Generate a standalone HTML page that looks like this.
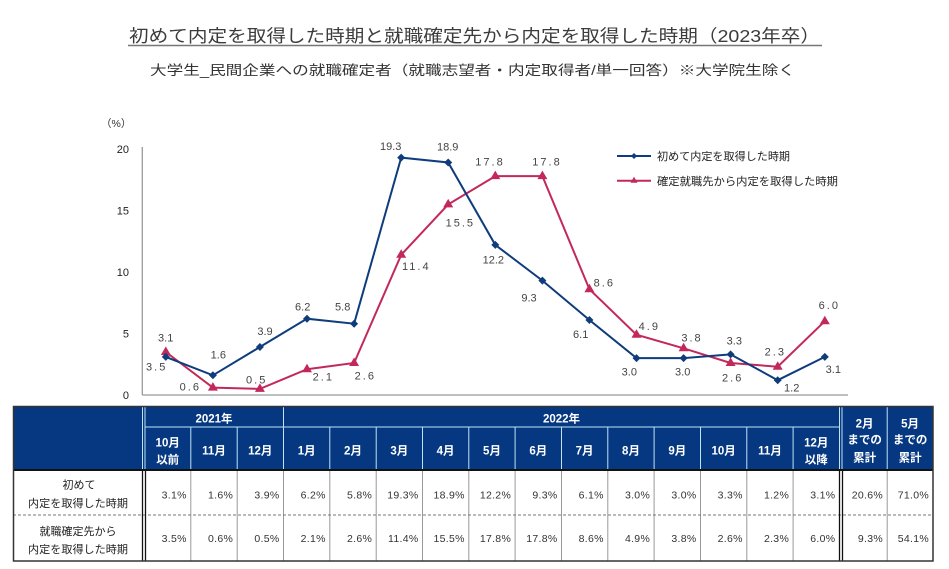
<!DOCTYPE html>
<html>
<head>
<meta charset="utf-8">
<style>
  html,body{margin:0;padding:0;background:#fff;}
  body{width:949px;height:569px;overflow:hidden;}
  svg{display:block;}
  text{font-family:"Liberation Sans","Noto Sans CJK JP",sans-serif;}
  .hd{fill:#fff;font-size:11.5px;font-weight:bold;text-anchor:middle;}
  .val{fill:#333;font-size:10.5px;text-anchor:end;letter-spacing:0.3px;}
  .bl{fill:#444;font-size:11px;text-anchor:middle;}
  .rl{fill:#444;font-size:11px;text-anchor:middle;letter-spacing:2px;}
  .ax{fill:#222;font-size:11px;text-anchor:end;}
  .lab{fill:#222;font-size:11px;text-anchor:middle;}
</style>
</head>
<body>
<svg width="949" height="569" viewBox="0 0 949 569" xmlns="http://www.w3.org/2000/svg">
  <!-- Title -->
  <text x="129" y="42.2" font-size="17.5" fill="#3c3c3c" textLength="691" lengthAdjust="spacingAndGlyphs">初めて内定を取得した時期と就職確定先から内定を取得した時期（2023年卒）</text>
  <line x1="128" y1="45.5" x2="822" y2="45.5" stroke="#777" stroke-width="1.5"/>
  <text x="150" y="75" font-size="13.5" fill="#333" textLength="645" lengthAdjust="spacingAndGlyphs">大学生_民間企業への就職確定者（就職志望者・内定取得者/単一回答）※大学院生除く</text>

  <!-- Axes -->
  <text x="101" y="127" font-size="10.5" fill="#333">（%）</text>
  <text class="ax" x="129" y="153">20</text>
  <text class="ax" x="129" y="214.5">15</text>
  <text class="ax" x="129" y="276">10</text>
  <text class="ax" x="129" y="337.5">5</text>
  <text class="ax" x="129" y="399">0</text>
  <line x1="142.3" y1="147" x2="142.3" y2="395" stroke="#999" stroke-width="1.3"/>
  <line x1="142.3" y1="395" x2="848" y2="395" stroke="#999" stroke-width="1.3"/>

  <!-- Red series -->
  <polyline fill="none" stroke="#c3285a" stroke-width="2" points="165.8,352.0 212.9,387.6 259.9,388.9 307.0,369.2 354.1,363.0 401.2,254.8 448.2,204.4 495.3,176.1 542.4,176.1 589.4,289.2 636.5,334.7 683.6,348.3 730.6,363.0 777.7,366.7 824.8,321.2"/>
  <g fill="#c3285a">
    <polygon points="165.8,346.5 170.8,355 160.8,355"/>
    <polygon points="212.9,382.1 217.9,390.6 207.9,390.6"/>
    <polygon points="259.9,383.4 264.9,391.9 254.9,391.9"/>
    <polygon points="307.0,363.7 312.0,372.2 302.0,372.2"/>
    <polygon points="354.1,357.5 359.1,366 349.1,366"/>
    <polygon points="401.2,249.3 406.2,257.8 396.2,257.8"/>
    <polygon points="448.2,198.9 453.2,207.4 443.2,207.4"/>
    <polygon points="495.3,170.6 500.3,179.1 490.3,179.1"/>
    <polygon points="542.4,170.6 547.4,179.1 537.4,179.1"/>
    <polygon points="589.4,283.7 594.4,292.2 584.4,292.2"/>
    <polygon points="636.5,329.2 641.5,337.7 631.5,337.7"/>
    <polygon points="683.6,342.8 688.6,351.3 678.6,351.3"/>
    <polygon points="730.6,357.5 735.6,366 725.6,366"/>
    <polygon points="777.7,361.2 782.7,369.7 772.7,369.7"/>
    <polygon points="824.8,315.7 829.8,324.2 819.8,324.2"/>
  </g>

  <!-- Blue series -->
  <polyline fill="none" stroke="#0e3c7c" stroke-width="2" points="165.8,356.9 212.9,375.3 259.9,347.0 307.0,318.7 354.1,323.7 401.2,157.6 448.2,162.5 495.3,244.9 542.4,280.6 589.4,320.0 636.5,358.1 683.6,358.1 730.6,354.4 777.7,380.2 824.8,356.9"/>
  <g fill="#0e3c7c">
    <polygon points="165.8,352.9 169.8,356.9 165.8,360.9 161.8,356.9"/>
    <polygon points="212.9,371.3 216.9,375.3 212.9,379.3 208.9,375.3"/>
    <polygon points="259.9,343.0 263.9,347.0 259.9,351.0 255.9,347.0"/>
    <polygon points="307.0,314.7 311.0,318.7 307.0,322.7 303.0,318.7"/>
    <polygon points="354.1,319.7 358.1,323.7 354.1,327.7 350.1,323.7"/>
    <polygon points="401.2,153.6 405.2,157.6 401.2,161.6 397.2,157.6"/>
    <polygon points="448.2,158.5 452.2,162.5 448.2,166.5 444.2,162.5"/>
    <polygon points="495.3,240.9 499.3,244.9 495.3,248.9 491.3,244.9"/>
    <polygon points="542.4,276.6 546.4,280.6 542.4,284.6 538.4,280.6"/>
    <polygon points="589.4,316.0 593.4,320.0 589.4,324.0 585.4,320.0"/>
    <polygon points="636.5,354.1 640.5,358.1 636.5,362.1 632.5,358.1"/>
    <polygon points="683.6,354.1 687.6,358.1 683.6,362.1 679.6,358.1"/>
    <polygon points="730.6,350.4 734.6,354.4 730.6,358.4 726.6,354.4"/>
    <polygon points="777.7,376.2 781.7,380.2 777.7,384.2 773.7,380.2"/>
    <polygon points="824.8,352.9 828.8,356.9 824.8,360.9 820.8,356.9"/>
  </g>

  <!-- Blue labels -->
  <text class="bl" x="165.7" y="341.3">3.1</text>
  <text class="bl" x="218.3" y="358.3">1.6</text>
  <text class="bl" x="265" y="335">3.9</text>
  <text class="bl" x="302.7" y="310.7">6.2</text>
  <text class="bl" x="342.7" y="310.7">5.8</text>
  <text class="bl" x="390.7" y="150">19.3</text>
  <text class="bl" x="447.7" y="150.7">18.9</text>
  <text class="bl" x="493.3" y="263.3">12.2</text>
  <text class="bl" x="529" y="301.5">9.3</text>
  <text class="bl" x="580.7" y="338">6.1</text>
  <text class="bl" x="629.3" y="375.7">3.0</text>
  <text class="bl" x="682.7" y="375.7">3.0</text>
  <text class="bl" x="734.3" y="344.7">3.3</text>
  <text class="bl" x="791.7" y="391.3">1.2</text>
  <text class="bl" x="833.3" y="373">3.1</text>

  <!-- Red labels -->
  <text class="rl" x="156.7" y="370.7">3.5</text>
  <text class="rl" x="190.3" y="390.7">0.6</text>
  <text class="rl" x="256.7" y="383.3">0.5</text>
  <text class="rl" x="323.3" y="380.7">2.1</text>
  <text class="rl" x="365.3" y="379.3">2.6</text>
  <text class="rl" x="416.3" y="270">11.4</text>
  <text class="rl" x="460.3" y="226.7">15.5</text>
  <text class="rl" x="490" y="165.7">17.8</text>
  <text class="rl" x="547" y="165.7">17.8</text>
  <text class="rl" x="604.3" y="286.7">8.6</text>
  <text class="rl" x="649.3" y="330">4.9</text>
  <text class="rl" x="692" y="341.3">3.8</text>
  <text class="rl" x="732.7" y="381.3">2.6</text>
  <text class="rl" x="775.3" y="355.3">2.3</text>
  <text class="rl" x="829.3" y="309">6.0</text>

  <!-- Legend -->
  <line x1="617" y1="156" x2="651" y2="156" stroke="#0e3c7c" stroke-width="2"/>
  <polygon points="634,153 637,156 634,159 631,156" fill="#0e3c7c"/>
  <text x="657" y="160.2" font-size="11" fill="#222" textLength="133" lengthAdjust="spacingAndGlyphs">初めて内定を取得した時期</text>
  <line x1="617" y1="180.7" x2="651" y2="180.7" stroke="#c3285a" stroke-width="2"/>
  <polygon points="634,176.7 637.5,182.7 630.5,182.7" fill="#c3285a"/>
  <text x="657" y="184.9" font-size="11" fill="#222" textLength="181" lengthAdjust="spacingAndGlyphs">確定就職先から内定を取得した時期</text>

  <!-- Table header -->
  <rect x="13" y="407" width="920" height="62" fill="#063882"/>
  <g stroke="#bfe3f5" stroke-width="1">
    <line x1="142.5" y1="407" x2="142.5" y2="469"/>
    <line x1="145" y1="407" x2="145" y2="469"/>
    <line x1="145" y1="427" x2="839.5" y2="427"/>
    <line x1="283.5" y1="407" x2="283.5" y2="427"/>
    <line x1="190.8" y1="427" x2="190.8" y2="469"/>
    <line x1="237.2" y1="427" x2="237.2" y2="469"/>
    <line x1="283.5" y1="427" x2="283.5" y2="469"/>
    <line x1="329.8" y1="427" x2="329.8" y2="469"/>
    <line x1="376.2" y1="427" x2="376.2" y2="469"/>
    <line x1="422.5" y1="427" x2="422.5" y2="469"/>
    <line x1="468.8" y1="427" x2="468.8" y2="469"/>
    <line x1="515.1" y1="427" x2="515.1" y2="469"/>
    <line x1="561.5" y1="427" x2="561.5" y2="469"/>
    <line x1="607.8" y1="427" x2="607.8" y2="469"/>
    <line x1="654.1" y1="427" x2="654.1" y2="469"/>
    <line x1="700.5" y1="427" x2="700.5" y2="469"/>
    <line x1="746.8" y1="427" x2="746.8" y2="469"/>
    <line x1="793.1" y1="427" x2="793.1" y2="469"/>
    <line x1="839.5" y1="407" x2="839.5" y2="469"/>
    <line x1="842" y1="407" x2="842" y2="469"/>
    <line x1="887.2" y1="407" x2="887.2" y2="469"/>
  </g>
  <text class="hd" x="214" y="422.5">2021年</text>
  <text class="hd" x="561.5" y="422.5">2022年</text>
  <text class="hd" x="167.7" y="446.7">10月</text>
  <text class="hd" x="167.7" y="463.4">以前</text>
  <text class="hd" x="214.0" y="454.4">11月</text>
  <text class="hd" x="260.3" y="454.4">12月</text>
  <text class="hd" x="306.7" y="454.4">1月</text>
  <text class="hd" x="353.0" y="454.4">2月</text>
  <text class="hd" x="399.3" y="454.4">3月</text>
  <text class="hd" x="445.6" y="454.4">4月</text>
  <text class="hd" x="492.0" y="454.4">5月</text>
  <text class="hd" x="538.3" y="454.4">6月</text>
  <text class="hd" x="584.6" y="454.4">7月</text>
  <text class="hd" x="631.0" y="454.4">8月</text>
  <text class="hd" x="677.3" y="454.4">9月</text>
  <text class="hd" x="723.6" y="454.4">10月</text>
  <text class="hd" x="770.0" y="454.4">11月</text>
  <text class="hd" x="816.3" y="446.7">12月</text>
  <text class="hd" x="816.3" y="463.4">以降</text>
  <text class="hd" x="864.6" y="427.7">2月</text>
  <text class="hd" x="864.6" y="443.7">までの</text>
  <text class="hd" x="864.6" y="461.7">累計</text>
  <text class="hd" x="910.1" y="427.7">5月</text>
  <text class="hd" x="910.1" y="443.7">までの</text>
  <text class="hd" x="910.1" y="461.7">累計</text>

  <!-- Table body -->
  <rect x="13" y="469" width="920" height="92" fill="#fff"/>
  <g stroke="#999" stroke-width="1">
    <line x1="190.8" y1="470" x2="190.8" y2="561"/>
    <line x1="237.2" y1="470" x2="237.2" y2="561"/>
    <line x1="283.5" y1="470" x2="283.5" y2="561"/>
    <line x1="329.8" y1="470" x2="329.8" y2="561"/>
    <line x1="376.2" y1="470" x2="376.2" y2="561"/>
    <line x1="422.5" y1="470" x2="422.5" y2="561"/>
    <line x1="468.8" y1="470" x2="468.8" y2="561"/>
    <line x1="515.1" y1="470" x2="515.1" y2="561"/>
    <line x1="561.5" y1="470" x2="561.5" y2="561"/>
    <line x1="607.8" y1="470" x2="607.8" y2="561"/>
    <line x1="654.1" y1="470" x2="654.1" y2="561"/>
    <line x1="700.5" y1="470" x2="700.5" y2="561"/>
    <line x1="746.8" y1="470" x2="746.8" y2="561"/>
    <line x1="793.1" y1="470" x2="793.1" y2="561"/>
    <line x1="887.2" y1="470" x2="887.2" y2="561"/>
  </g>
  <line x1="13" y1="515" x2="933" y2="515" stroke="#777" stroke-width="1" stroke-dasharray="3,2"/>
  <g stroke="#111" stroke-width="1.3">
    <line x1="142.5" y1="469" x2="142.5" y2="561"/>
    <line x1="145.5" y1="469" x2="145.5" y2="561"/>
    <line x1="839.5" y1="469" x2="839.5" y2="561"/>
    <line x1="842.5" y1="469" x2="842.5" y2="561"/>
  </g>
  <line x1="13" y1="470" x2="933" y2="470" stroke="#111" stroke-width="2"/>
  <rect x="13.5" y="406.5" width="919.5" height="154.5" fill="none" stroke="#333" stroke-width="1.5"/>

  <text class="lab" x="79" y="488.5">初めて</text>
  <text class="lab" x="78" y="507" textLength="100" lengthAdjust="spacingAndGlyphs">内定を取得した時期</text>
  <text class="lab" x="78" y="535.2">就職確定先から</text>
  <text class="lab" x="78" y="553.2" textLength="100" lengthAdjust="spacingAndGlyphs">内定を取得した時期</text>

  <!-- Row 1 values -->
  <text class="val" x="186.8" y="498.6">3.1%</text>
  <text class="val" x="233.2" y="498.6">1.6%</text>
  <text class="val" x="279.5" y="498.6">3.9%</text>
  <text class="val" x="325.8" y="498.6">6.2%</text>
  <text class="val" x="372.2" y="498.6">5.8%</text>
  <text class="val" x="418.5" y="498.6">19.3%</text>
  <text class="val" x="464.8" y="498.6">18.9%</text>
  <text class="val" x="511.1" y="498.6">12.2%</text>
  <text class="val" x="557.5" y="498.6">9.3%</text>
  <text class="val" x="603.8" y="498.6">6.1%</text>
  <text class="val" x="650.1" y="498.6">3.0%</text>
  <text class="val" x="696.5" y="498.6">3.0%</text>
  <text class="val" x="742.8" y="498.6">3.3%</text>
  <text class="val" x="789.1" y="498.6">1.2%</text>
  <text class="val" x="835.4" y="498.6">3.1%</text>
  <text class="val" x="883" y="498.6">20.6%</text>
  <text class="val" x="929" y="498.6">71.0%</text>

  <!-- Row 2 values -->
  <text class="val" x="186.8" y="542">3.5%</text>
  <text class="val" x="233.2" y="542">0.6%</text>
  <text class="val" x="279.5" y="542">0.5%</text>
  <text class="val" x="325.8" y="542">2.1%</text>
  <text class="val" x="372.2" y="542">2.6%</text>
  <text class="val" x="418.5" y="542">11.4%</text>
  <text class="val" x="464.8" y="542">15.5%</text>
  <text class="val" x="511.1" y="542">17.8%</text>
  <text class="val" x="557.5" y="542">17.8%</text>
  <text class="val" x="603.8" y="542">8.6%</text>
  <text class="val" x="650.1" y="542">4.9%</text>
  <text class="val" x="696.5" y="542">3.8%</text>
  <text class="val" x="742.8" y="542">2.6%</text>
  <text class="val" x="789.1" y="542">2.3%</text>
  <text class="val" x="835.4" y="542">6.0%</text>
  <text class="val" x="883" y="542">9.3%</text>
  <text class="val" x="929" y="542">54.1%</text>
</svg>
</body>
</html>
